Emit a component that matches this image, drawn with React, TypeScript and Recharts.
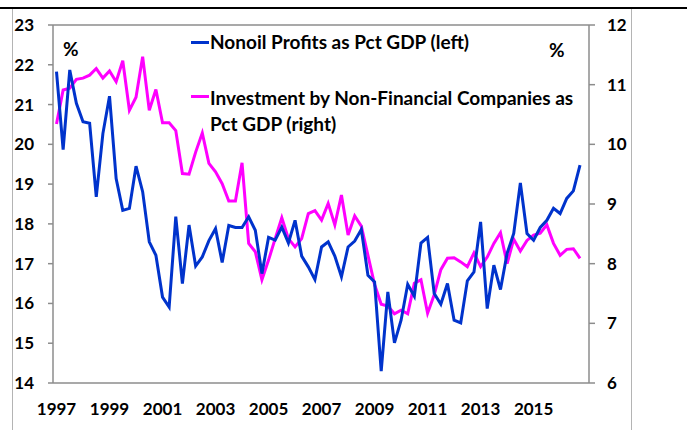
import React from 'react';
import {
  LineChart,
  Line,
  XAxis,
  YAxis,
  ReferenceLine,
} from 'recharts';

// quarterly, 1997Q1 .. 2016Q4
const years = [
  1997, 1998, 1999, 2000, 2001, 2002, 2003, 2004, 2005, 2006,
  2007, 2008, 2009, 2010, 2011, 2012, 2013, 2014, 2015, 2016,
];

const quarters = years.flatMap((y) => [1, 2, 3, 4].map((q) => `${y}Q${q}`));

const xTickLabels = [
  '1997Q1', '1999Q1', '2001Q1', '2003Q1', '2005Q1',
  '2007Q1', '2009Q1', '2011Q1', '2013Q1', '2015Q1',
];

// Nonoil profits as pct GDP (left axis)
const profits = [
  21.83, 19.87, 21.87, 21.03, 20.57, 20.53, 18.68, 20.27, 21.21, 19.14,
  18.34, 18.39, 19.45, 18.81, 17.55, 17.21, 16.16, 15.91, 18.18, 16.5,
  17.97, 16.94, 17.17, 17.58, 17.88, 17.03, 17.96, 17.91, 17.91, 18.18,
  17.84, 16.75, 17.66, 17.59, 17.92, 17.52, 18.09, 17.19, 16.92, 16.6,
  17.42, 17.55, 17.19, 16.67, 17.42, 17.57, 17.86, 16.71, 16.54, 14.3,
  16.29, 15.01, 15.58, 16.48, 16.18, 17.52, 17.66, 16.25, 15.98, 16.5,
  15.58, 15.51, 16.57, 16.79, 18.05, 15.87, 16.96, 16.35, 17.26, 17.76,
  19.03, 17.76, 17.59, 17.91, 18.09, 18.39, 18.26, 18.64, 18.83, 19.48,
];

// Investment by non-financial companies as pct GDP (right axis)
const investment = [
  10.34, 10.91, 10.94, 11.09, 11.11, 11.16, 11.27, 11.11, 11.23, 11.05,
  11.4, 10.57, 10.79, 11.47, 10.57, 10.92, 10.36, 10.36, 10.23, 9.51,
  9.5, 9.87, 10.19, 9.68, 9.54, 9.34, 9.05, 9.05, 9.69, 8.34,
  8.2, 7.73, 8.06, 8.42, 8.77, 8.42, 8.28, 8.42, 8.84, 8.89,
  8.73, 9.01, 8.65, 9.15, 8.48, 8.8, 8.63, 8.14, 7.65, 7.32,
  7.29, 7.16, 7.22, 7.16, 7.67, 7.73, 7.17, 7.48, 7.9, 8.09,
  8.1, 8.03, 7.95, 8.18, 7.95, 8.11, 8.34, 8.52, 8.0, 8.41,
  8.21, 8.39, 8.48, 8.51, 8.65, 8.34, 8.14, 8.24, 8.25, 8.09,
];

const leftTicks = [14, 15, 16, 17, 18, 19, 20, 21, 22, 23];
const rightTicks = [6, 7, 8, 9, 10, 11, 12];

const data = quarters.map((q, i) => ({
  q,
  profits: profits[i],
  investment: investment[i],
}));

const BLUE = '#0033cc';
const MAGENTA = '#ff00ff';
const AXIS = '#8c8c8c';
const FONT = 'Lato, "Open Sans", sans-serif';

const tickStyle = { fill: '#000', fontSize: 17, fontWeight: 700, fontFamily: FONT };

const textStyle: React.CSSProperties = {
  position: 'absolute',
  fontFamily: FONT,
  fontWeight: 700,
  fontSize: 19,
  lineHeight: '24px',
  color: '#000',
  whiteSpace: 'nowrap',
};

export default function App() {
  return (
    <div
      style={{
        position: 'absolute',
        left: 0,
        top: 0,
        width: 687,
        height: 430,
        background: '#fff',
        overflow: 'hidden',
      }}
    >
      <div style={{ position: 'absolute', left: 0, top: 7, width: 687, height: 2, background: '#000' }} />
      <div style={{ position: 'absolute', left: 12, top: 9, width: 1, height: 421, background: '#b4b4b4' }} />
      <div style={{ position: 'absolute', left: 631, top: 9, width: 1, height: 421, background: '#b4b4b4' }} />

      <div style={{ position: 'absolute', left: 0, top: 0 }}>
        <LineChart
          width={687}
          height={430}
          data={data}
          margin={{ top: 25, right: 0, bottom: 0, left: 0 }}
        >
          <XAxis
            dataKey="q"
            ticks={xTickLabels}
            tickFormatter={(v: string) => v.slice(0, 4)}
            interval={0}
            height={47}
            padding={{ left: 3.5, right: 9 }}
            tickLine={false}
            tickSize={0}
            tickMargin={20}
            axisLine={{ stroke: AXIS, strokeWidth: 1.5 }}
            tick={tickStyle}
          />
          <YAxis
            yAxisId="left"
            domain={[14, 23]}
            ticks={leftTicks}
            interval={0}
            width={53}
            tickSize={5}
            tickMargin={14}
            axisLine={{ stroke: AXIS, strokeWidth: 1.5 }}
            tickLine={{ stroke: AXIS, strokeWidth: 1.5 }}
            tick={tickStyle}
          />
          <YAxis
            yAxisId="right"
            orientation="right"
            domain={[6, 12]}
            ticks={rightTicks}
            interval={0}
            width={98}
            tickSize={6}
            tickMargin={12}
            axisLine={{ stroke: AXIS, strokeWidth: 1.5 }}
            tickLine={{ stroke: AXIS, strokeWidth: 1.5 }}
            tick={tickStyle}
          />
          <ReferenceLine yAxisId="left" y={23} stroke={AXIS} strokeWidth={1.5} />
          <Line
            yAxisId="right"
            dataKey="investment"
            stroke={MAGENTA}
            strokeWidth={3}
            dot={false}
            isAnimationActive={false}
          />
          <Line
            yAxisId="left"
            dataKey="profits"
            stroke={BLUE}
            strokeWidth={3}
            dot={false}
            isAnimationActive={false}
          />
        </LineChart>
      </div>

      <div style={{ ...textStyle, left: 63, top: 37 }}>%</div>
      <div style={{ ...textStyle, left: 549, top: 38 }}>%</div>

      <div style={{ position: 'absolute', left: 191, top: 41, width: 18, height: 3, background: BLUE }} />
      <div style={{ ...textStyle, left: 210, top: 30 }}>Nonoil Profits as Pct GDP (left)</div>

      <div style={{ position: 'absolute', left: 191, top: 95, width: 18, height: 3, background: MAGENTA }} />
      <div style={{ ...textStyle, left: 210, top: 86 }}>Investment by Non-Financial Companies as</div>
      <div style={{ ...textStyle, left: 210, top: 112 }}>Pct GDP (right)</div>
    </div>
  );
}
